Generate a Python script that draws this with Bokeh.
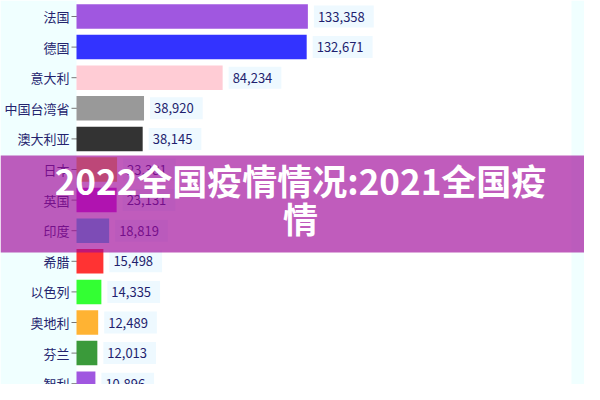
from bokeh.plotting import figure
from bokeh.models import Range1d, BoxAnnotation, Label, ColumnDataSource
from bokeh.core.properties import value
from bokeh.embed import file_html
from bokeh.resources import INLINE

countries = ["法国", "德国", "意大利", "中国台湾省", "澳大利亚", "日本", "英国",
             "印度", "希腊", "以色列", "奥地利", "芬兰", "智利"]
cases = [133358, 132671, 84234, 38920, 38145, 23381, 23131,
         18819, 15498, 14335, 12489, 12013, 10896]
bar_colors = ["#a057e0", "#3333ff", "#ffccd5", "#999999", "#333333", "#f5c23a", "#d02adc",
              "#3ccfee", "#ff3333", "#33ff33", "#ffb333", "#3a9a3a", "#a057e0"]
title_text = "2022全国疫情情况:2021全国疫\n情"

idx = list(range(len(countries)))
labels = ["{:,}".format(v) for v in cases]
src = ColumnDataSource(dict(idx=idx, cases=cases, color=bar_colors, label=labels,
                            name=countries, zero=[0] * len(idx)))

CJK = "Noto Sans CJK SC"
W, H = 584, 384
px_per_unit = 1.735e-3      # horizontal scale
x0_px = 76                  # canvas x of value 0
row0_px, row_px = 16.0, 30.6

p = figure(width=W, height=H, output_backend="svg", toolbar_location=None,
           x_range=Range1d(-x0_px / px_per_unit, (W - x0_px) / px_per_unit),
           y_range=Range1d((H - row0_px) / row_px, -row0_px / row_px),
           min_border_left=0, min_border_right=0, min_border_top=0, min_border_bottom=0)
p.background_fill_color = "#ffffff"
p.border_fill_color = "#f0ffff"
p.outline_line_color = None
p.xgrid.visible = False
p.ygrid.visible = False
p.xaxis.visible = False
p.yaxis.visible = False

# pale side bands
p.add_layout(BoxAnnotation(right=0, fill_color="#f0ffff", fill_alpha=1.0,
                           line_color=None, level="underlay"))
p.add_layout(BoxAnnotation(left=571, left_units="canvas", fill_color="#f0ffff",
                           fill_alpha=1.0, line_color=None, level="underlay"))

# category ticks and labels
p.scatter(x="zero", y="idx", marker="dash", size=10, line_color="#777777",
          line_width=1, source=src)
p.text(x="zero", y="idx", text="name", x_offset=-7, text_align="right",
       text_baseline="middle", text_font=value(CJK), text_font_size="13px",
       text_color="#24246e", source=src)

p.hbar(y="idx", left=0, right="cases", height=0.8, fill_color="color",
       line_color=None, source=src)

p.text(x="cases", y="idx", text="label", x_offset=6, text_align="left",
       text_baseline="middle", text_font=value(CJK), text_font_size="13px",
       text_color="#1f1f6e", background_fill_color="#eef9ff",
       padding=dict(left=4, right=9, top=6, bottom=6), source=src)

banner = BoxAnnotation(left=0, right=W, top=155, bottom=252,
                       left_units="canvas", right_units="canvas",
                       top_units="canvas", bottom_units="canvas",
                       fill_color="#9f0799", fill_alpha=0.66, line_color=None,
                       level="overlay")
p.add_layout(banner)

title = Label(x=300, y=198, x_units="canvas", y_units="canvas", text=title_text,
              text_align="center", text_baseline="middle", text_color="white",
              text_font=CJK, text_font_style="bold", text_font_size="35px",
              text_line_height=0.76, level="overlay")
p.add_layout(title)

open("out.html", "w").write(file_html(p, INLINE))
